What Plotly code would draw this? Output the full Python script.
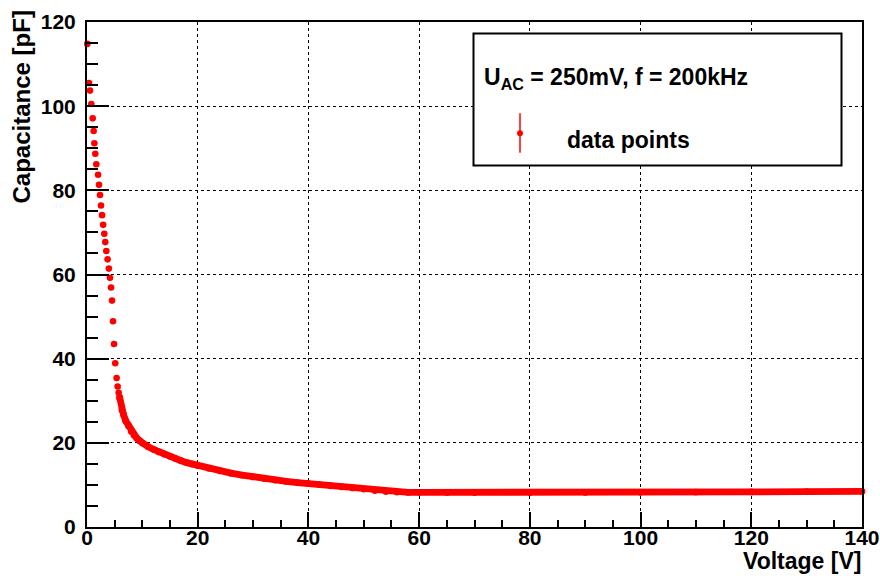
import plotly.graph_objects as go

# ---- data ----
v_steep = [0.05, 0.36, 0.54, 0.78, 1.03, 1.2, 1.33, 1.5, 1.68, 2.0, 2.17, 2.35, 2.53, 2.72, 2.92,
           3.12, 3.3, 3.49, 3.72, 3.95, 4.15, 4.34, 4.52, 4.7, 4.88, 5.1, 5.35, 5.54, 5.72, 5.9]
c_steep = [114.8, 105.5, 103.7, 100.5, 97.1, 94.1, 91.2, 88.7, 86.2, 83.7, 81.3, 78.9, 76.4, 74.1, 71.8,
           69.7, 67.7, 65.6, 63.6, 61.4, 59.2, 56.9, 53.8, 48.9, 43.5, 38.9, 35.4, 33.4, 31.9, 30.8]

v_band = [5.9, 6.3, 6.6, 7.0, 7.5, 8.0, 8.5, 9.0, 9.5, 10, 11, 12, 13, 14, 15, 16, 17, 18, 19, 20,
          22, 24, 26, 28, 30, 32, 34, 36, 38, 40, 42, 44, 46, 48, 50, 52, 54, 56, 58, 60,
          65, 70, 80, 90, 100, 110, 120, 130, 140]
c_band = [30.8, 27.8, 26.7, 25.2, 24.0, 22.7, 21.8, 21.1, 20.5, 19.95, 19.1, 18.45, 17.85, 17.3, 16.8,
          16.25, 15.75, 15.3, 14.95, 14.6, 13.95, 13.35, 12.8, 12.35, 11.9, 11.5, 11.15, 10.83, 10.55,
          10.3, 10.05, 9.8, 9.55, 9.28, 9.0, 8.65, 8.42, 8.3, 8.25, 8.23, 8.21, 8.2, 8.2, 8.22, 8.25,
          8.3, 8.33, 8.4, 8.45]

x_ticks = [0, 20, 40, 60, 80, 100, 120, 140]
y_ticks = [0, 20, 40, 60, 80, 100, 120]

x_title = "Voltage [V]"
y_title = "Capacitance [pF]"
legend_header = "U<sub>AC</sub> = 250mV, f = 200kHz"
legend_entry = "data points"

RED = "#ff0000"
FONT = "Liberation Sans, Arial, sans-serif"

# plot area in pixels
W, H = 880, 579
L, R, T, B = 87, 862, 22, 527


def px(xp):
    return (xp - L) / (R - L)


def py(yp):
    return (B - yp) / (B - T)


fig = go.Figure()
fig.add_trace(go.Scatter(x=v_band, y=c_band, mode="lines+markers",
                         line=dict(color=RED, width=6.8),
                         marker=dict(color=RED, size=6.8),
                         cliponaxis=False, showlegend=False))
fig.add_trace(go.Scatter(x=v_steep, y=c_steep, mode="markers",
                         marker=dict(color=RED, size=6.6),
                         cliponaxis=False, showlegend=False))

axis_common = dict(showline=True, linecolor="black", linewidth=2, mirror=True,
                   ticks="inside", tickcolor="black", tickwidth=1.5,
                   showgrid=True, gridcolor="black", gridwidth=1, griddash="dot",
                   zeroline=False, automargin=False, ticklabeloverflow="allow",
                   tickfont=dict(family=FONT, size=21, color="black", weight="bold"))

fig.update_xaxes(range=[0, 140], tickvals=x_ticks, ticktext=[str(t) for t in x_ticks],
                 ticklen=15, ticklabelstandoff=-9,
                 minor=dict(dtick=5, ticklen=7, ticks="inside", tickcolor="black",
                            tickwidth=1.5, showgrid=False),
                 **axis_common)
fig.update_yaxes(range=[0, 120], tickvals=y_ticks, ticktext=[str(t) for t in y_ticks],
                 ticklen=22, ticklabelstandoff=5,
                 minor=dict(dtick=5, ticklen=11, ticks="inside", tickcolor="black",
                            tickwidth=1.5, showgrid=False),
                 **axis_common)

shapes = [
    # legend box
    dict(type="rect", xref="paper", yref="paper", x0=px(473.5), x1=px(841.5),
         y0=py(165.5), y1=py(33.5), line=dict(color="black", width=2),
         fillcolor="white", layer="above"),
    # legend glyph: error bar + point
    dict(type="line", xref="paper", yref="paper", x0=px(520), x1=px(520),
         y0=py(152.7), y1=py(113.3), line=dict(color=RED, width=1.5), layer="above"),
    dict(type="circle", xref="paper", yref="paper", xsizemode="pixel", ysizemode="pixel",
         xanchor=px(520), yanchor=py(133.3), x0=-3, x1=3, y0=-3, y1=3,
         fillcolor=RED, line=dict(color=RED, width=0), layer="above"),
]

annotations = [
    dict(text=f"<b>{x_title}</b>", xref="paper", yref="paper", x=px(863), y=py(561),
         xanchor="right", yanchor="middle", showarrow=False,
         font=dict(family=FONT, size=23, color="black")),
    dict(text=f"<b>{y_title}</b>", xref="paper", yref="paper", x=px(21), y=py(9),
         xanchor="center", yanchor="top", textangle=-90, showarrow=False,
         font=dict(family=FONT, size=24, color="black")),
    dict(text=f"<b>{legend_header}</b>", xref="paper", yref="paper", x=px(482), y=py(78),
         xanchor="left", yanchor="middle", showarrow=False,
         font=dict(family=FONT, size=23, color="black")),
    dict(text=f"<b>{legend_entry}</b>", xref="paper", yref="paper", x=px(565), y=py(140),
         xanchor="left", yanchor="middle", showarrow=False,
         font=dict(family=FONT, size=23, color="black")),
]

fig.update_layout(width=W, height=H,
                  margin=dict(l=L, r=W - R, t=T, b=H - B, pad=0, autoexpand=False),
                  paper_bgcolor="white", plot_bgcolor="white",
                  showlegend=False, shapes=shapes, annotations=annotations)

fig.write_html("out.html")
